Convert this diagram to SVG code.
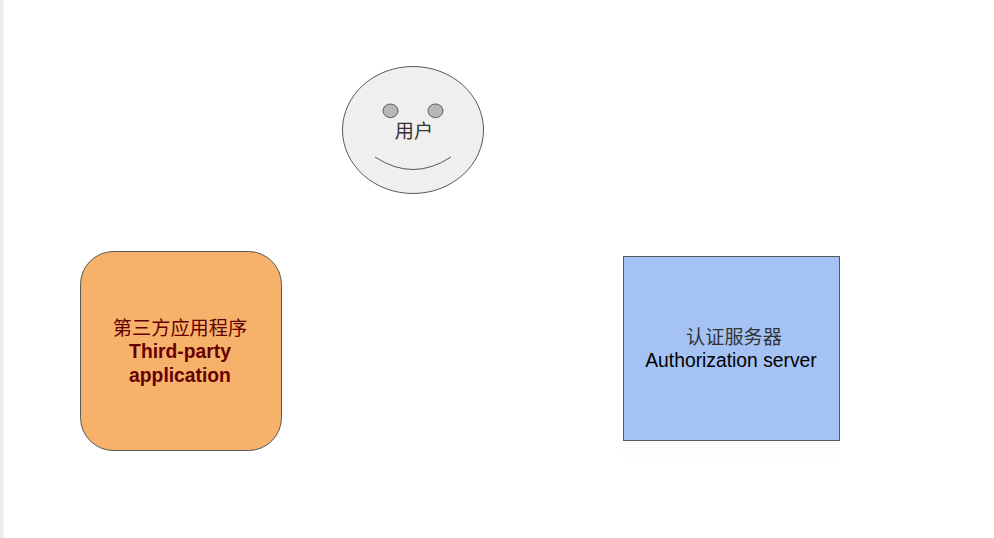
<svg xmlns="http://www.w3.org/2000/svg" width="994" height="538" viewBox="0 0 994 538">
<style>
.o{stroke:#595959;stroke-width:1}
text{font-family:"Liberation Sans","Noto Sans CJK SC",sans-serif;font-size:19.300px;text-anchor:middle}
.cn{font-family:"Noto Sans CJK SC","Liberation Sans",sans-serif;font-weight:400;font-size:19.200px}
</style>
<rect width="994" height="538" fill="#ffffff"/>
<rect x="0" y="0" width="3.500" height="538" fill="#ececec"/>
<rect x="623" y="441" width="217" height="20" fill="#fdfdfd"/>
<g id="user">
<ellipse class="o" cx="413" cy="130" rx="70.500" ry="63.500" fill="#efefef"/>
<ellipse class="o" cx="390.500" cy="110.800" rx="7.500" ry="6.800" fill="#b7b7b7"/>
<ellipse class="o" cx="435.500" cy="110.800" rx="7.500" ry="6.800" fill="#b7b7b7"/>
<path class="o" d="M375 157Q413 182 451 157" fill="none" stroke-width="0.800"/>
<text class="cn" x="414" y="138" fill="#333333">用户</text>
</g>
<g id="third-party">
<rect class="o" x="80.500" y="251.500" width="201" height="199" rx="33" ry="33" fill="#f6b26b"/>
<text class="cn" x="180" y="335" fill="#660000">第三方应用程序</text>
<text x="180" y="358" fill="#660000" font-weight="700">Third-party</text>
<text x="180" y="382" fill="#660000" font-weight="700">application</text>
</g>
<g id="auth-server">
<rect class="o" x="623.500" y="256.500" width="216" height="184" fill="#a4c2f4"/>
<text class="cn" x="734" y="344" fill="#333333">认证服务器</text>
<text x="731" y="367" fill="#000000">Authorization server</text>
</g>
<g id="connectors"/>
</svg>
